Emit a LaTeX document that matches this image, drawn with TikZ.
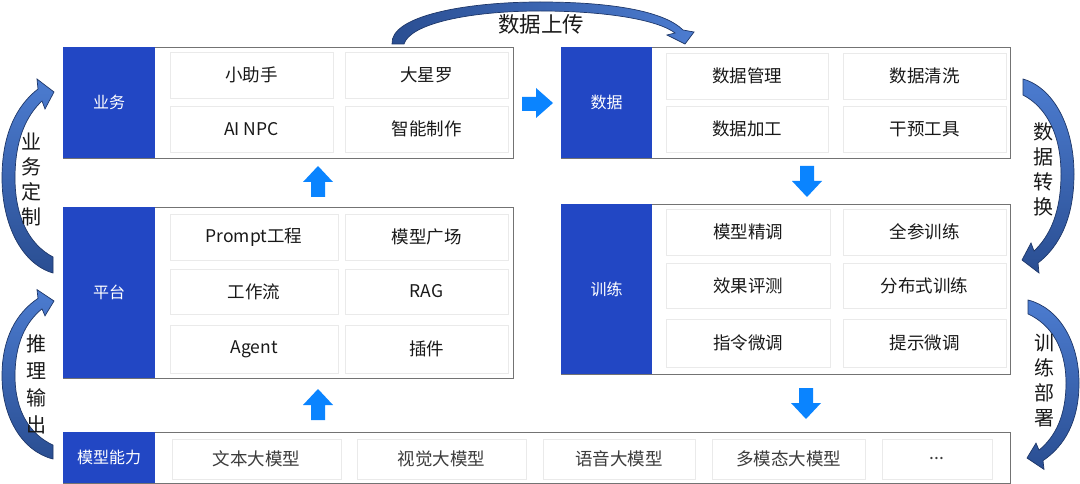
\documentclass[tikz,border=0pt]{standalone}
\usepackage{fontspec}
\setmainfont{Noto Sans CJK SC}
\definecolor{boxblue}{RGB}{34,71,196}
\definecolor{arrblue}{RGB}{10,132,255}
\definecolor{cellline}{RGB}{234,234,234}
\definecolor{outline}{RGB}{115,115,115}
\definecolor{carrlight}{RGB}{76,124,208}
\definecolor{carrdark}{RGB}{42,78,146}
\definecolor{carredge}{RGB}{30,55,105}
\definecolor{txt}{RGB}{25,25,25}
\definecolor{txtgray}{RGB}{60,60,60}
\begin{document}
\begin{tikzpicture}[x=1pt,y=-1pt,
  outerbox/.style={draw=outline, line width=0.9pt, fill=white, inner sep=0pt},
  bluebox/.style={fill=boxblue, draw=none, text=white, inner sep=0pt, font=\fontsize{16}{18}\selectfont},
  cell/.style={draw=cellline, line width=0.8pt, inner sep=0pt, text=txt, font=\fontsize{17.5}{20}\selectfont},
  cellb/.style={cell, text=txtgray, font=\fontsize{17.5}{20}\selectfont},
  blk/.style={fill=arrblue, draw=none},
  curv/.style={draw=carredge, line width=0.7pt, top color=carrlight, bottom color=carrdark},
  curvtop/.style={draw=carredge, line width=0.7pt, left color=carrdark, right color=carrlight},
  sidelabel/.style={align=center, inner sep=0pt, text=txt, font=\fontsize{20}{25}\selectfont},
  sidelabelb/.style={align=center, inner sep=0pt, text=txt, font=\fontsize{20}{27}\selectfont}
]
\useasboundingbox (0,0) rectangle (1080,484);
\fill[white] (0,0) rectangle (1080,484);

% ---------- outer group boxes ----------
\node[outerbox, minimum width=450, minimum height=111] (yw) at (288,102.5) {};
\node[bluebox, minimum width=92, minimum height=111] (ywl) at (109,102.5) {业务};
\node[outerbox, minimum width=449, minimum height=111] (sj) at (785.5,102.5) {};
\node[bluebox, minimum width=91, minimum height=111] (sjl) at (606.5,102.5) {数据};
\node[outerbox, minimum width=450, minimum height=171] (pt) at (288,292.5) {};
\node[bluebox, minimum width=92, minimum height=171] (ptl) at (109,292.5) {平台};
\node[outerbox, minimum width=449, minimum height=170] (xl) at (785.5,289) {};
\node[bluebox, minimum width=91, minimum height=170] (xll) at (606.5,289) {训练};
\node[outerbox, minimum width=947, minimum height=51] (mx) at (536.5,457.5) {};
\node[bluebox, minimum width=92, minimum height=51] (mxl) at (109,457.5) {模型能力};

% ---------- cells: 业务 ----------
\node[cell, minimum width=163, minimum height=46] (c11) at (251.5,75) {小助手};
\node[cell, minimum width=163, minimum height=46] (c12) at (426.5,75) {大星罗};
\node[cell, minimum width=163, minimum height=46] (c13) at (251.5,129) {AI NPC};
\node[cell, minimum width=163, minimum height=46] (c14) at (426.5,129) {智能制作};
% ---------- cells: 数据 ----------
\node[cell, minimum width=162, minimum height=46] (c21) at (747,76) {数据管理};
\node[cell, minimum width=163, minimum height=46] (c22) at (924.5,76) {数据清洗};
\node[cell, minimum width=162, minimum height=46] (c23) at (747,129) {数据加工};
\node[cell, minimum width=163, minimum height=46] (c24) at (924.5,129) {干预工具};
% ---------- cells: 平台 ----------
\node[cell, minimum width=168, minimum height=46] (c31) at (254,237) {Prompt工程};
\node[cell, minimum width=163, minimum height=46] (c32) at (426.5,237) {模型广场};
\node[cell, minimum width=168, minimum height=45] (c33) at (254,291.5) {工作流};
\node[cell, minimum width=163, minimum height=45] (c34) at (426.5,291.5) {RAG};
\node[cell, minimum width=168, minimum height=48] (c35) at (254,349) {Agent};
\node[cell, minimum width=163, minimum height=48] (c36) at (426.5,349) {插件};
% ---------- cells: 训练 ----------
\node[cell, minimum width=164, minimum height=46] (c41) at (748,232) {模型精调};
\node[cell, minimum width=163, minimum height=46] (c42) at (924.5,232) {全参训练};
\node[cell, minimum width=164, minimum height=45] (c43) at (748,285.5) {效果评测};
\node[cell, minimum width=163, minimum height=45] (c44) at (924.5,285.5) {分布式训练};
\node[cell, minimum width=164, minimum height=48] (c45) at (748,343) {指令微调};
\node[cell, minimum width=163, minimum height=48] (c46) at (924.5,343) {提示微调};
% ---------- cells: 模型能力 ----------
\node[cellb, minimum width=169, minimum height=40] (c51) at (256.5,459) {文本大模型};
\node[cellb, minimum width=169, minimum height=40] (c52) at (441.5,459) {视觉大模型};
\node[cellb, minimum width=152, minimum height=40] (c53) at (619,459) {语音大模型};
\node[cellb, minimum width=153, minimum height=40] (c54) at (788.5,459) {多模态大模型};
\node[cellb, minimum width=110, minimum height=40] (c55) at (937,459) {...};

% ---------- block arrows ----------
\path[blk] (522,97) -- (536,97) -- (536,88) -- (553,103) -- (536,118) -- (536,111) -- (522,111) -- cycle;
\path[blk] (318,166) -- (333,182) -- (325,182) -- (325,197) -- (311,197) -- (311,182) -- (303,182) -- cycle;
\path[blk] (318,389) -- (333,405) -- (325,405) -- (325,420) -- (311,420) -- (311,405) -- (303,405) -- cycle;
\path[blk] (807,197) -- (822,181) -- (814,181) -- (814,166) -- (800,166) -- (800,181) -- (792,181) -- cycle;
\path[blk] (806,419) -- (821,403) -- (813,403) -- (813,388) -- (799,388) -- (799,403) -- (791,403) -- cycle;

% ---------- curved arrows ----------
\newcommand\leftcurvearrow[1]{%
  \path[#1] (53,257) -- (53,273) .. controls (22,264) and (2,225) .. (2,178)
    .. controls (2,135) and (16,106) .. (38,89) -- (37,79) -- (54,92) -- (45,109) -- (42,101)
    .. controls (26,116) and (15,140) .. (15,178)
    .. controls (15,218) and (30,245) .. (53,257) -- cycle;}
\leftcurvearrow{curv}
\begin{scope}[shift={(0,301)}, yscale=0.873, shift={(0,-92)}]
  \leftcurvearrow{curv}
\end{scope}
\begin{scope}[rotate around={180:(538,176)}]
  \leftcurvearrow{curv}
\end{scope}
\begin{scope}[rotate around={180:(540.5,379.5)}]
  \begin{scope}[shift={(0,301)}, yscale=0.873, shift={(0,-92)}]
    \leftcurvearrow{curv}
  \end{scope}
\end{scope}
% top arc
\path[curvtop] (392,44) .. controls (390,16) and (465,2) .. (540,2)
  .. controls (615,2) and (665,12) .. (683,30) -- (694,32) -- (685,44) -- (667,35) -- (675,33)
  .. controls (658,20) and (607,11) .. (540,11)
  .. controls (468,11) and (410,24) .. (404,44) -- cycle;

% ---------- labels ----------
\node[text=txt, inner sep=0pt, font=\fontsize{21.5}{24}\selectfont] (up) at (541,24) {数据上传};
\node[sidelabel] (l1) at (31,180) {业\\务\\定\\制};
\node[sidelabelb] (l2) at (37,384) {推\\理\\输\\出};
\node[sidelabel] (l3) at (1043,169) {数\\据\\转\\换};
\node[sidelabel] (l4) at (1044,381) {训\\练\\部\\署};
\end{tikzpicture}
\end{document}
